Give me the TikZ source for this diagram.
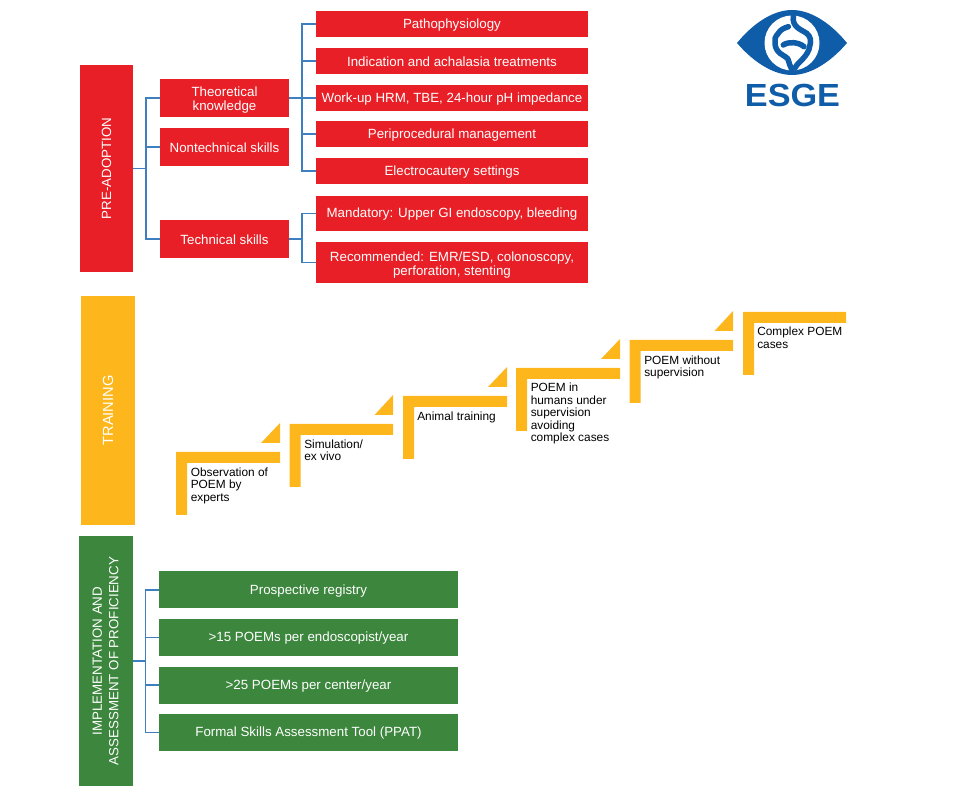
\documentclass[tikz,border=0pt]{standalone}
\usepackage{fontspec}
\usepackage{xcolor}
\setmainfont{Liberation Sans}
\usetikzlibrary{calc, positioning}

\definecolor{esgered}{HTML}{E81F26}
\definecolor{esgeyellow}{HTML}{FDB71C}
\definecolor{esgegreen}{HTML}{3C863D}
\definecolor{esgeblue}{HTML}{0F5CA8}
\definecolor{linkblue}{HTML}{3D7FBF}

\begin{document}
\begin{tikzpicture}[x=0.75pt, y=0.75pt, font=\fontsize{10}{10.5}\selectfont]
		\tikzstyle{lowered} = [execute at begin node={\rule{0pt}{8.5pt}}]
		\tikzstyle{redbox} = [fill=esgered, text=white, rectangle, inner sep=0pt, minimum width=129*0.75pt, minimum height=38*0.75pt, align=center, lowered]
		\tikzstyle{leaf} = [fill=esgered, text=white, rectangle, inner sep=0pt, minimum width=272*0.75pt, align=center, lowered]
		\tikzstyle{greenbox} = [fill=esgegreen, text=white, rectangle, inner sep=0pt, minimum width=299*0.75pt, minimum height=37*0.75pt, align=center, lowered]
		\tikzstyle{phase} = [text=white, rectangle, inner sep=0pt, align=center]
		\tikzstyle{steptext} = [anchor=north west, inner sep=0pt, align=left, font=\fontsize{8.9}{9.4}\selectfont]
		\tikzstyle{link} = [linkblue, line width=0.8pt]
		\tikzstyle{gut} = [esgeblue, line width=5.5*0.75pt, line cap=round]
		
		\useasboundingbox (0, 0) rectangle (954, -798);
		
		% pre-adoption
		\node[phase, fill=esgered, minimum width=53*0.75pt, minimum height=207*0.75pt]	at (106.5, -168.5)	(pre)	{\rotatebox{90}{PRE-ADOPTION}};
		
		\node[redbox]	at (224.5, -98)		(theory)	{\rule{0pt}{9.8pt}Theoretical\\knowledge};
		\node[redbox]	at (224.5, -147)	(nontech)	{Nontechnical skills};
		\node[redbox]	at (224.5, -239)	(tech)		{Technical skills};
		
		\node[leaf, minimum height=26*0.75pt]	at (452, -24)	(patho)		{Pathophysiology};
		\node[leaf, minimum height=26*0.75pt]	at (452, -61)	(indic)		{Indication and achalasia treatments};
		\node[leaf, minimum height=26*0.75pt]	at (452, -98)	(workup)	{Work-up HRM, TBE, 24-hour pH impedance};
		\node[leaf, minimum height=26*0.75pt]	at (452, -134)	(peri)		{Periprocedural management};
		\node[leaf, minimum height=26*0.75pt]	at (452, -171)	(electro)	{Electrocautery settings};
		\node[leaf, minimum height=35*0.75pt]	at (452, -213.5)	(mand)		{Mandatory: Upper GI endoscopy, bleeding};
		\node[leaf, minimum height=41*0.75pt]	at (452, -262.5)	(recom)		{\rule{0pt}{11pt}Recommended: EMR/ESD, colonoscopy,\\perforation, stenting};
		
		\coordinate (t1) at (146, -168.5);
		\coordinate (t2) at (302, -98);
		\coordinate (t3) at (302, -239);
		\coordinate (t4) at (145.5, -661);
		
		\draw [link] (pre) -- (t1);
		\draw [link] (t1) |- (theory);
		\draw [link] (t1) |- (nontech);
		\draw [link] (t1) |- (tech);
		
		\draw [link] (theory) -- (t2);
		\draw [link] (t2) |- (patho);
		\draw [link] (t2) |- (indic);
		\draw [link] (t2) -- (workup);
		\draw [link] (t2) |- (peri);
		\draw [link] (t2) |- (electro);
		
		\draw [link] (tech) -- (t3);
		\draw [link] (t3) |- (mand);
		\draw [link] (t3) |- (recom);
		
		% training
		\node[phase, fill=esgeyellow, minimum width=54*0.75pt, minimum height=229*0.75pt]	at (108, -410.5)	(train)	{\rotatebox{90}{\fontsize{11}{12}\selectfont TRAINING}};
		
		\fill[esgeyellow] (176, -515) |- (280, -452) |- (187, -463) |- cycle (261, -443) -- (280, -443) -- (280, -423) -- cycle;
		\fill[esgeyellow] (289.5, -487) |- (393, -424) |- (300.5, -435) |- cycle (374.5, -415) -- (393, -415) -- (393, -395) -- cycle;
		\fill[esgeyellow] (403, -459) |- (507, -396) |- (414, -407) |- cycle (488, -387) -- (507, -387) -- (507, -367) -- cycle;
		\fill[esgeyellow] (516, -431) |- (620, -368) |- (527, -379) |- cycle (601, -359) -- (620, -359) -- (620, -339) -- cycle;
		\fill[esgeyellow] (629.5, -403) |- (733, -340) |- (640.5, -351) |- cycle (714.5, -331) -- (733, -331) -- (733, -311) -- cycle;
		\fill[esgeyellow] (743, -375) |- (846, -312) |- (754, -323) |- cycle;
		
		\node[steptext]	at (190.5, -467.5)	(obs)	{Observation of\\POEM by\\experts};
		\node[steptext]	at (304, -439.5)	(simul)	{Simulation/\\ex vivo};
		\node[steptext]	at (417, -411.5)	(animal)	{Animal training};
		\node[steptext]	at (530.5, -383)	(humans)	{POEM in\\humans under\\supervision\\avoiding\\complex cases};
		\node[steptext]	at (644, -355.5)	(nosup)	{POEM without\\supervision};
		\node[steptext]	at (757, -327)	(complex)	{Complex POEM\\cases};
		
		% implementation
		\node[phase, fill=esgegreen, minimum width=54*0.75pt, minimum height=250*0.75pt]	at (106, -661)	(impl)	{\hspace*{2pt}\rotatebox{90}{\begin{tabular}{@{}c@{}}IMPLEMENTATION AND\\[2pt]ASSESSMENT OF PROFICIENCY\end{tabular}}};
		
		\node[greenbox]	at (308.5, -590)	(registry)	{Prospective registry};
		\node[greenbox]	at (308.5, -637.5)	(perdoc)	{>15 POEMs per endoscopist/year};
		\node[greenbox]	at (308.5, -685)	(percenter)	{>25 POEMs per center/year};
		\node[greenbox]	at (308.5, -732.5)	(ppat)		{Formal Skills Assessment Tool (PPAT)};
		
		\draw [link] (impl) -- (t4);
		\draw [link] (t4) |- (registry);
		\draw [link] (t4) |- (perdoc);
		\draw [link] (t4) |- (percenter);
		\draw [link] (t4) |- (ppat);
		
		% logo
		\fill[esgeblue] (737, -43) .. controls (755, -21) and (775, -10) .. (792, -10) .. controls (809, -10) and (829, -21) .. (847, -43) .. controls (829, -64) and (809, -75) .. (792, -75) .. controls (775, -75) and (755, -64) .. (737, -43) -- cycle;
		\fill[white] (792, -43) circle [radius=27.5];
		\draw[gut] (793.3, -16) .. controls (792, -27) and (800, -29) .. (806.7, -33.3) .. controls (811, -37) and (811, -41) .. (810, -45) .. controls (809, -52) and (806, -55) .. (803.3, -58.3) .. controls (800, -62) and (797, -64) .. (795, -68);
		\draw[gut] (788.3, -26.7) .. controls (784, -28) and (780, -30) .. (778.3, -33.3) .. controls (775, -37) and (774, -40) .. (775, -43.3) .. controls (775, -47) and (777, -51) .. (780, -53.3) .. controls (784, -56) and (788, -58) .. (788.3, -60) .. controls (789, -63) and (790, -66) .. (791.7, -69.3);
		\draw[gut] (783.3, -45) .. controls (786, -43) and (790, -42.5) .. (793.3, -42.7) .. controls (797, -43) and (801, -44) .. (804, -46.7);
		\node[inner sep=0pt, text=esgeblue, font=\fontsize{24}{24}\bfseries\selectfont]	at (792.5, -95.5)	(esge)	{\scalebox{1.07}[1]{ESGE}};
	\end{tikzpicture}
\end{document}
